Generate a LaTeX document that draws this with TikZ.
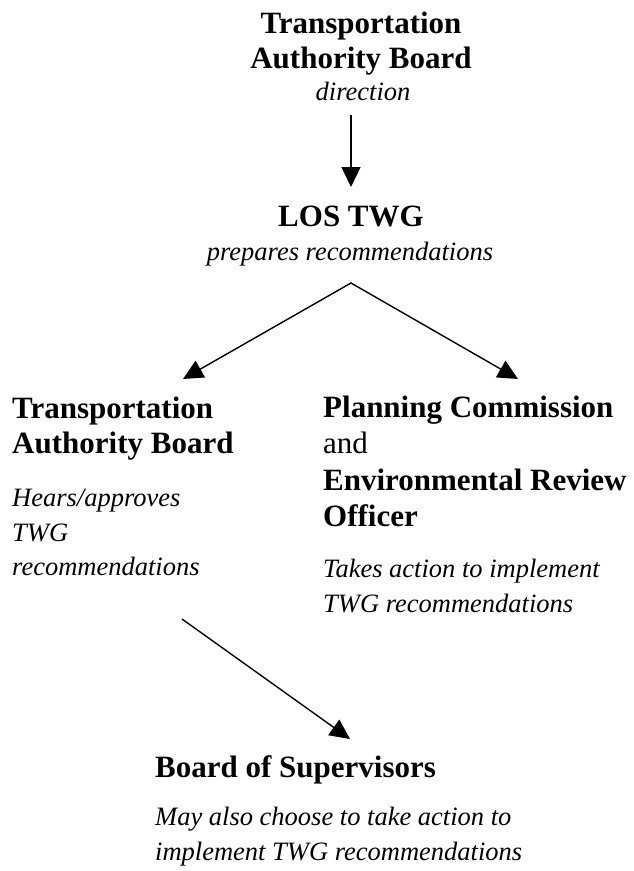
\documentclass[tikz,border=0pt]{standalone}
\usepackage{fontspec}
\setmainfont{Liberation Serif}
\usetikzlibrary{arrows.meta}
\begin{document}
\begin{tikzpicture}[x=1pt,y=-1pt,
  bt/.style={inner sep=0pt, font=\fontsize{31}{35}\selectfont\bfseries},
  rg/.style={inner sep=0pt, font=\fontsize{31}{35}\selectfont},
  it/.style={inner sep=0pt, font=\fontsize{26.5}{35}\selectfont\itshape},
  arr/.style={line width=1.4pt, -{Triangle[length=20pt,width=19pt]}},
  darr/.style={line width=1.4pt, {Triangle[length=20pt,width=19pt]}-{Triangle[length=20pt,width=19pt]}}]
\useasboundingbox (0,0) rectangle (633,871);
% top
\node[bt, anchor=base] (t1) at (361,33) {Transportation};
\node[bt, anchor=base] (t2) at (361,68) {Authority Board};
\node[it, anchor=base] (t3) at (363,100) {direction};
\node[bt, anchor=base] (los) at (351,226) {LOS TWG};
\node[it, anchor=base] (prep) at (350,260) {prepares recommendations};
% left column
\node[bt, anchor=base west] (l1) at (12,418) {Transportation};
\node[bt, anchor=base west] (l2) at (12,453) {Authority Board};
\node[it, anchor=base west] (l3) at (12,506) {Hears/approves};
\node[it, anchor=base west] (l4) at (12,541) {TWG};
\node[it, anchor=base west] (l5) at (12,575) {recommendations};
% right column
\node[bt, anchor=base west] (r1) at (323,417) {Planning Commission};
\node[rg, anchor=base west] (r2) at (323,453) {and};
\node[bt, anchor=base west] (r3) at (323,490) {Environmental Review};
\node[bt, anchor=base west] (r4) at (323,526) {Officer};
\node[it, anchor=base west] (r5) at (323,577) {Takes action to implement};
\node[it, anchor=base west] (r6) at (323,612) {TWG recommendations};
% bottom
\node[bt, anchor=base west] (b1) at (155,777) {Board of Supervisors};
\node[it, anchor=base west] (b2) at (155,825) {May also choose to take action to};
\node[it, anchor=base west] (b3) at (155,860) {implement TWG recommendations};
% connectors
\coordinate (a1s) at (351,115);
\coordinate (a1e) at (351,187);
\draw[arr] (a1s) -- (a1e);
\coordinate (fk) at (351,283);
\coordinate (ltip) at (183,379);
\coordinate (rtip) at (518,379);
\draw[darr] (ltip) -- (fk) -- (rtip);
\coordinate (ds) at (182,619);
\coordinate (de) at (350,739);
\draw[arr] (ds) -- (de);
\end{tikzpicture}
\end{document}
